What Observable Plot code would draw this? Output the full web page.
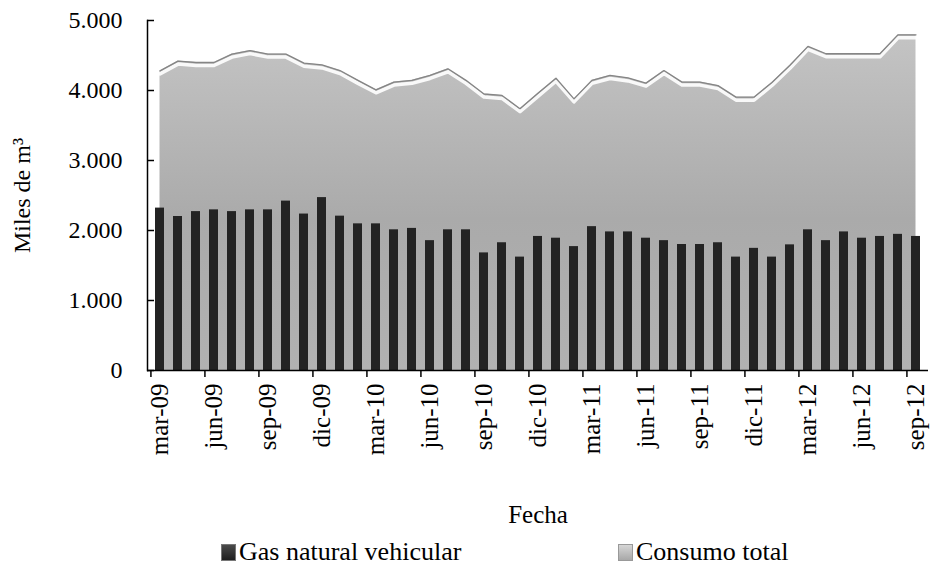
<!DOCTYPE html>
<html>
<head>
<meta charset="utf-8">
<script src="https://cdn.jsdelivr.net/npm/d3@7"></script>
<script src="https://cdn.jsdelivr.net/npm/@observablehq/plot@0.6"></script>
<style>
  body { margin: 0; background: #fff; font-family: "Liberation Serif", "Times New Roman", serif; }
  #legend { position: relative; height: 38px; font-size: 26px; color: #000; font-family: "Liberation Serif", serif; }
  .item { position: absolute; top: 9px; display: flex; align-items: center; white-space: nowrap; line-height: 26px; }
  .sw { width: 15px; height: 17px; margin-right: 3px; box-sizing: border-box; }
</style>
</head>
<body>
<div id="chart"></div>
<div id="legend">
  <div class="item" style="left:221px"><span class="sw" style="background:linear-gradient(#4a4a4a,#1e1e1e);border:1px solid #777"></span>Gas natural vehicular</div>
  <div class="item" style="left:618px"><span class="sw" style="background:linear-gradient(#d6d6d6,#a8a8a8);border:1px solid #999"></span>Consumo total</div>
</div>
<script>
const months = ["mar-09","abr-09","may-09","jun-09","jul-09","ago-09","sep-09","oct-09","nov-09","dic-09",
  "ene-10","feb-10","mar-10","abr-10","may-10","jun-10","jul-10","ago-10","sep-10","oct-10","nov-10","dic-10",
  "ene-11","feb-11","mar-11","abr-11","may-11","jun-11","jul-11","ago-11","sep-11","oct-11","nov-11","dic-11",
  "ene-12","feb-12","mar-12","abr-12","may-12","jun-12","jul-12","ago-12","sep-12"];
const gasNaturalVehicular = [2320,2200,2270,2295,2270,2295,2295,2420,2235,2470,
  2205,2095,2095,2010,2030,1855,2010,2010,1680,1825,1620,1915,
  1890,1770,2055,1980,1980,1890,1855,1800,1800,1825,1620,1745,
  1620,1795,2010,1855,1980,1890,1915,1945,1915];
const consumoTotal = [4280,4420,4400,4400,4520,4570,4520,4520,4390,4365,
  4285,4145,4010,4120,4145,4215,4310,4145,3950,3930,3740,3960,
  4175,3880,4145,4215,4180,4105,4285,4120,4120,4070,3905,3905,
  4115,4360,4630,4525,4525,4525,4525,4795,4795];
const yTicks = [0,1000,2000,3000,4000,5000];
const xTickLabels = months.filter((d, i) => i % 3 === 0);

const data = months.map((m, i) => ({month: m, gnv: gasNaturalVehicular[i], total: consumoTotal[i]}));
const fmt = d3.formatLocale({decimal: ",", thousands: ".", grouping: [3], currency: ["", ""]}).format(",");

const FONT = "'Liberation Serif', 'Times New Roman', serif";
const W = 938, H = 530, mL = 147, mR = 10, mT = 20, mB = 160;
const step = (W - mL - mR) / months.length;

const chart = Plot.plot({
  width: W, height: H,
  marginLeft: mL, marginRight: mR, marginTop: mT, marginBottom: mB,
  style: {fontFamily: FONT, fontSize: "24px", background: "#fff", color: "#000"},
  x: {type: "band", domain: months, paddingInner: 0.48, paddingOuter: 0.24},
  y: {domain: [0, 5000]},
  marks: [
    Plot.areaY(data, {x: "month", y: "total", fill: "url(#areaGrad)", curve: "linear"}),
    Plot.lineY(data, {x: "month", y: "total", stroke: "#ffffff", strokeWidth: 3.5, dy: 3, strokeOpacity: 0.9}),
    Plot.lineY(data, {x: "month", y: "total", stroke: "#858585", strokeWidth: 1.3}),
    Plot.barY(data, {x: "month", y: "gnv", fill: "#232323"}),
    Plot.ruleY([0], {stroke: "#000", strokeWidth: 1.5}),
    Plot.frame({anchor: "left", stroke: "#000", strokeWidth: 1.5}),
    Plot.ruleX(xTickLabels, {x: d => d, y1: 0, y2: 0, insetTop: 0, insetBottom: -7, dx: -step / 2, stroke: "#000", strokeWidth: 1.5}),
    Plot.axisY({ticks: yTicks, tickFormat: fmt, tickSize: -7, tickPadding: 32, strokeWidth: 1.5,
      fontSize: 24, fontFamily: FONT, label: "Miles de m³", labelArrow: "none", labelAnchor: "center", labelOffset: 135}),
    Plot.axisX({ticks: xTickLabels, tickSize: 0, tickPadding: 13, tickRotate: -90, fontSize: 25, fontFamily: FONT,
      label: "Fecha", labelArrow: "none", labelAnchor: "center", labelOffset: 152})
  ]
});

const svg = d3.select(chart);
const defs = svg.insert("defs", ":first-child");
const g = defs.append("linearGradient").attr("id", "areaGrad").attr("x1", 0).attr("y1", 0).attr("x2", 0).attr("y2", 1);
g.append("stop").attr("offset", "0%").attr("stop-color", "#c4c4c4");
g.append("stop").attr("offset", "55%").attr("stop-color", "#aaaaaa");
g.append("stop").attr("offset", "100%").attr("stop-color", "#b2b2b2");

document.getElementById("chart").appendChild(chart);
</script>
</body>
</html>
